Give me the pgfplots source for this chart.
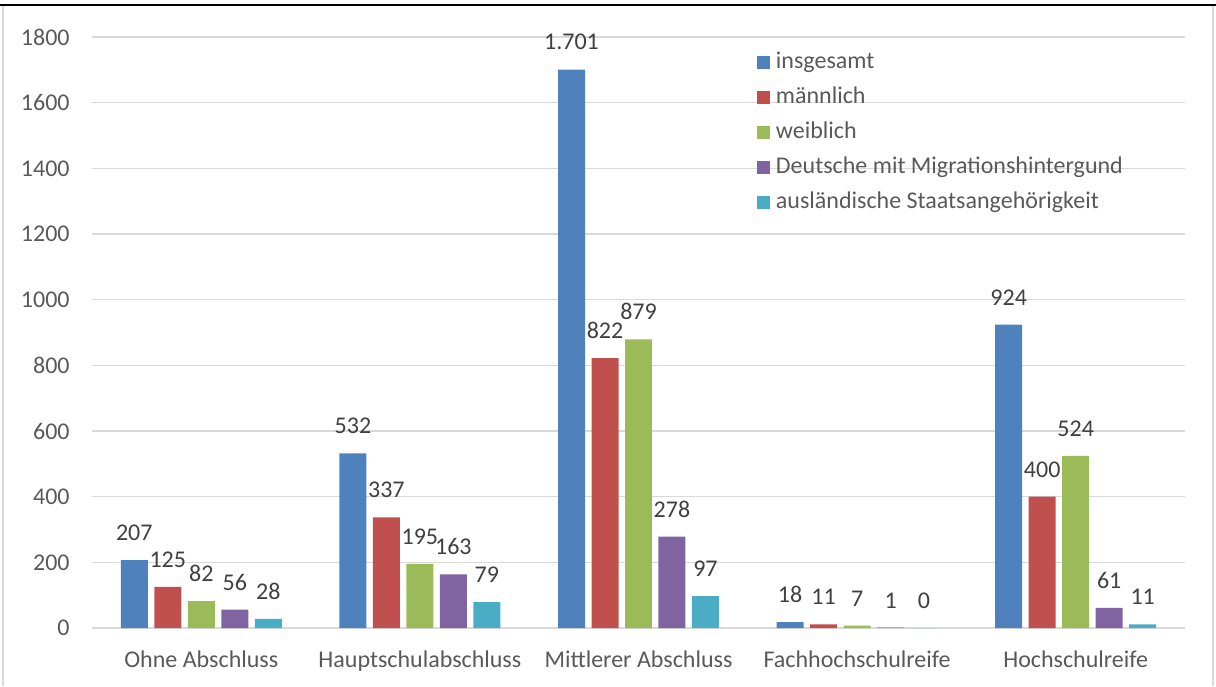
\documentclass[border=0pt]{standalone}
\usepackage{pgfplots}
\pgfplotsset{compat=1.18}
\usepackage{fontspec}
\setmainfont{Carlito}
\definecolor{cBlue}{HTML}{4F81BD}
\definecolor{cRed}{HTML}{C0504D}
\definecolor{cGreen}{HTML}{9BBB59}
\definecolor{cPurple}{HTML}{8064A2}
\definecolor{cCyan}{HTML}{4BACC6}
\definecolor{gridgray}{HTML}{D9D9D9}
\definecolor{ticktext}{HTML}{595959}
\definecolor{labeltext}{HTML}{404040}
\begin{document}
\fontsize{12}{14}\selectfont
\begin{tikzpicture}
\useasboundingbox (-46pt,-29pt) rectangle (562pt,314pt);
\begin{axis}[
  at={(0,0)}, anchor=south west,
  scale only axis,
  width=546.5pt, height=295.5pt,
  ybar,
  bar width=0.1235,
  xmin=-0.5, xmax=4.5,
  ymin=0, ymax=1800,
  ytick={0,200,...,1800},
  xtick={0,1,2,3,4},
  xticklabels={Ohne Abschluss,Hauptschulabschluss,Mittlerer Abschluss,Fachhochschulreife,Hochschulreife},
  major tick length=0pt,
  axis line style={draw=none},
  ymajorgrids,
  grid style={gridgray, line width=0.75pt},
  /pgf/number format/assume math mode=true,
  /pgf/number format/1000 sep={},
  tick label style={font=\fontsize{12}{14}\selectfont, text=ticktext},
  yticklabel style={xshift=-7pt},
  xticklabel style={yshift=-7pt},
  nodes near coords,
  every node near coord/.append style={
    font=\fontsize{12}{14}\selectfont, text=labeltext,
    anchor=south, inner sep=0pt, yshift=9.5pt,
    /pgf/number format/fixed, /pgf/number format/precision=0,
    /pgf/number format/1000 sep={.}},
  legend style={
    at={(0.6084,0.9763)}, anchor=north west,
    draw=none, fill=none, inner sep=0pt, outer sep=0pt,
    row sep=6.5pt,
    font=\fontsize{12}{14}\selectfont, text=ticktext,
    nodes={inner sep=0pt, text height=8.5pt, text depth=2.5pt},
    /tikz/every odd column/.style={column sep=3pt}},
  legend cell align=left,
  legend image code/.code={\fill[#1, draw=none] (0pt,-3.25pt) rectangle (6.5pt,3.25pt);},
]
\addplot[fill=cBlue, draw=none, bar shift=-0.3064] coordinates {(0,207) (1,532) (2,1701) (3,18) (4,924)};
\addplot[fill=cRed, draw=none, bar shift=-0.1532] coordinates {(0,125) (1,337) (2,822) (3,11) (4,400)};
\addplot[fill=cGreen, draw=none, bar shift=0] coordinates {(0,82) (1,195) (2,879) (3,7) (4,524)};
\addplot[fill=cPurple, draw=none, bar shift=0.1532] coordinates {(0,56) (1,163) (2,278) (3,1) (4,61)};
\addplot[fill=cCyan, draw=none, bar shift=0.3064] coordinates {(0,28) (1,79) (2,97) (3,0) (4,11)};
\legend{insgesamt, männlich, weiblich, Deutsche mit Migrationshintergund, ausländische Staatsangehörigkeit}
\end{axis}
% chart frame
\draw[black, line width=1pt] (-46pt,311.5pt) -- (562pt,311.5pt);
\draw[gridgray, line width=0.75pt] (-44.5pt,311pt) -- (-44.5pt,-29pt);
\draw[gridgray, line width=0.75pt] (560.5pt,311pt) -- (560.5pt,-29pt);
\end{tikzpicture}
\end{document}
